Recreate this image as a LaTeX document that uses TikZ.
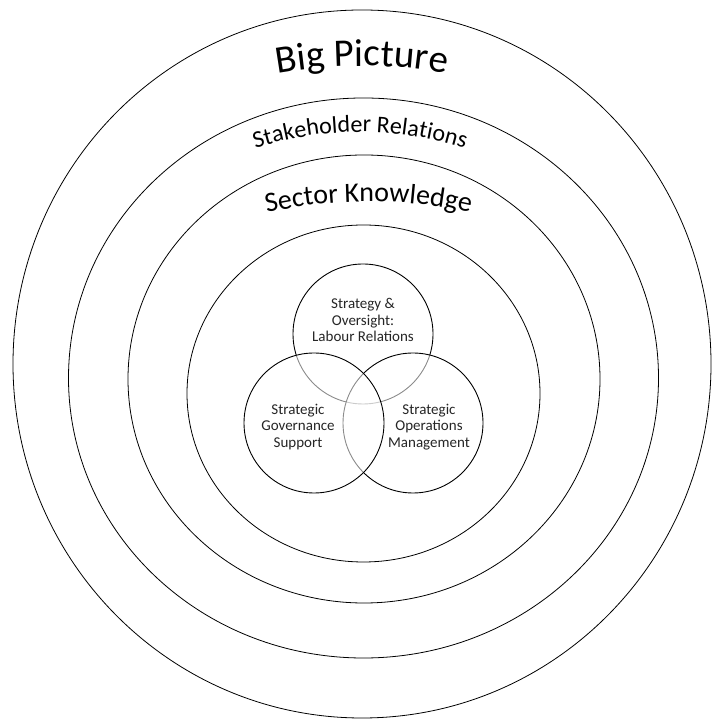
\documentclass[tikz,border=0pt]{standalone}
\usepackage{fontspec}
\setmainfont{Carlito}
\usetikzlibrary{decorations.text}
\begin{document}
\begin{tikzpicture}[x=1pt,y=1pt,
  ring/.style={draw=black, line width=0.8pt},
  venn/.style={draw=black, line width=0.9pt, fill=white, fill opacity=0.55},
  lbl/.style={align=center, text=black!85, font=\fontsize{15}{16.5}\selectfont},
  arctext/.style={decorate, decoration={text along path, text align=center, text={#1}}}]
\useasboundingbox (0,0) rectangle (712,719);
\fill[white] (0,0) rectangle (712,719);
% concentric rings
\coordinate (c1) at (362,355);
\coordinate (c2) at (363.5,341);
\coordinate (c3) at (364,340);
\coordinate (c4) at (363.5,325.5);
\draw[ring] (c1) ellipse [x radius=349pt, y radius=354pt];
\draw[ring] (c2) ellipse [x radius=295pt, y radius=280pt];
\draw[ring] (c3) ellipse [x radius=236pt, y radius=224pt];
\draw[ring] (c4) ellipse [x radius=176.5pt, y radius=168.5pt];
% curved titles
\path[arctext={|\fontsize{39}{39}\selectfont|Big Picture}]
  (122,588.7) arc [start angle=120, end angle=60, radius=480pt];
\path[arctext={|\fontsize{24}{24}\selectfont|Stakeholder Relations}]
  (163.3,525) arc [start angle=125, end angle=55, radius=343pt];
\path[arctext={|\fontsize{28}{28}\selectfont|Sector Knowledge}]
  (174.1,474.4) arc [start angle=115, end angle=65, radius=460pt];
% Venn circles
\coordinate (vt) at (363,385);
\coordinate (vl) at (314,296);
\coordinate (vr) at (413,296);
\draw[venn] (vt) circle [radius=70pt];
\draw[venn] (vr) circle [radius=70pt];
\draw[venn] (vl) circle [radius=70pt];
\node[lbl] (tt) at (363,399) {Strategy \&\\Oversight:\\Labour Relations};
\node[lbl] (tl) at (298,292) {Strategic\\Governance\\Support};
\node[lbl] (tr) at (429,292) {Strategic\\Operations\\Management};
\end{tikzpicture}
\end{document}
